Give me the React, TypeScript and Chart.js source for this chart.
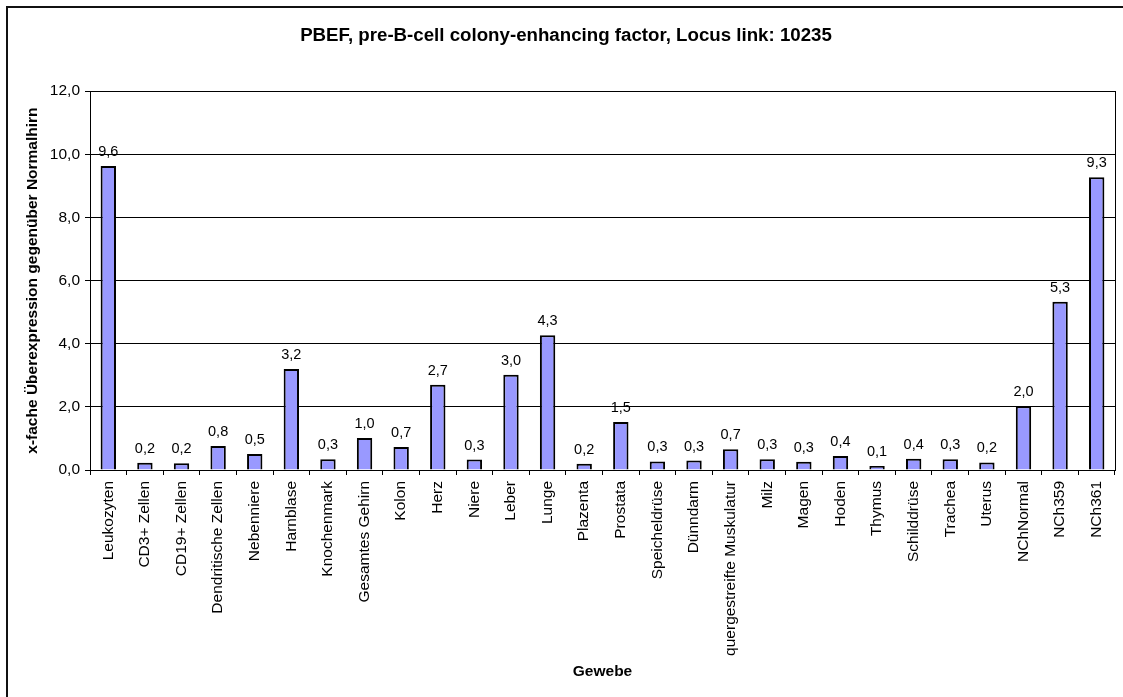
import React, { useEffect, useRef } from "react";
import { Chart, registerables } from "chart.js";

Chart.register(...registerables);

const categories: string[] = [
  "Leukozyten", "CD3+ Zellen", "CD19+ Zellen", "Dendritische Zellen", "Nebenniere",
  "Harnblase", "Knochenmark", "Gesamtes Gehirn", "Kolon", "Herz", "Niere", "Leber",
  "Lunge", "Plazenta", "Prostata", "Speicheldrüse", "Dünndarm", "quergestreifte Muskulatur",
  "Milz", "Magen", "Hoden", "Thymus", "Schilddrüse", "Trachea", "Uterus",
  "NChNormal", "NCh359", "NCh361",
];

const values: number[] = [
  9.63, 0.23, 0.21, 0.76, 0.51,
  3.2, 0.34, 1.01, 0.73, 2.7, 0.33, 3.02,
  4.27, 0.2, 1.52, 0.27, 0.3, 0.66,
  0.34, 0.26, 0.44, 0.13, 0.36, 0.34, 0.24,
  2.02, 5.33, 9.27,
];

const yTicks: number[] = [0, 2, 4, 6, 8, 10, 12];

const titleText = "PBEF, pre-B-cell colony-enhancing factor, Locus link: 10235";
const yTitle = "x-fache Überexpression gegenüber Normalhirn";
const xTitle = "Gewebe";

const fmt = (v: number) => v.toFixed(1).replace(".", ",");

const FONT = "'Liberation Sans', Arial, sans-serif";

const framePlugin = {
  id: "framePlugin",
  afterDraw(chart: any) {
    const ctx = chart.ctx;
    const a = chart.chartArea;
    ctx.save();
    // outer frame (left and top visible)
    ctx.strokeStyle = "#111";
    ctx.lineWidth = 2;
    ctx.beginPath();
    ctx.moveTo(7, chart.height);
    ctx.lineTo(7, 7);
    ctx.lineTo(chart.width, 7);
    ctx.stroke();
    // plot area border
    ctx.strokeStyle = "#000";
    ctx.lineWidth = 1;
    ctx.strokeRect(Math.round(a.left) + 0.5, Math.round(a.top) + 0.5,
      Math.round(a.right - a.left), Math.round(a.bottom - a.top));
    // data labels
    const meta = chart.getDatasetMeta(0);
    ctx.fillStyle = "#000";
    ctx.font = `14.5px ${FONT}`;
    ctx.textAlign = "center";
    ctx.textBaseline = "alphabetic";
    meta.data.forEach((el: any, i: number) => {
      const v = chart.data.datasets[0].data[i] as number;
      ctx.fillText(fmt(v), el.x, el.y - 10);
    });
    ctx.restore();
  },
};

export default function App() {
  const ref = useRef<HTMLCanvasElement>(null);
  useEffect(() => {
    if (!ref.current) return;
    const chart = new Chart(ref.current, {
      type: "bar",
      data: {
        labels: categories,
        datasets: [
          {
            data: values,
            backgroundColor: "#9999FF",
            borderColor: "#000",
            borderWidth: 2,
            barPercentage: 0.42,
            categoryPercentage: 1,
          },
        ],
      },
      options: {
        animation: false,
        responsive: false,
        devicePixelRatio: 1,
        layout: { padding: { left: 17, right: 8, top: 0, bottom: 0 } },
        plugins: {
          legend: { display: false },
          tooltip: { enabled: false },
          title: {
            display: true,
            text: titleText,
            color: "#000",
            font: { family: FONT, size: 18.7, weight: "bold" },
            padding: { top: 24.5, bottom: 44.2 },
          },
        },
        scales: {
          x: {
            grid: {
              display: true,
              drawOnChartArea: false,
              drawTicks: true,
              tickLength: 5,
              color: "#000",
              offset: true,
            },
            border: { display: true, color: "#000" },
            ticks: {
              color: "#000",
              font: { family: FONT, size: 15.5 },
              minRotation: 90,
              maxRotation: 90,
              autoSkip: false,
              padding: 6,
            },
            title: {
              display: true,
              text: xTitle,
              color: "#000",
              font: { family: FONT, size: 15.5, weight: "bold" },
              padding: { top: 0, bottom: 15.5 },
            },
            afterFit(scale: any) {
              scale.height = 227;
            },
          },
          y: {
            min: 0,
            max: 12,
            afterBuildTicks(scale: any) {
              scale.ticks = yTicks.map((v) => ({ value: v }));
            },
            grid: {
              color: "#000",
              tickLength: 5,
              drawTicks: true,
            },
            border: { display: true, color: "#000" },
            ticks: {
              color: "#000",
              font: { family: FONT, size: 15.5 },
              padding: 5,
              callback: (v: any) => fmt(Number(v)),
            },
            title: {
              display: true,
              text: yTitle,
              color: "#000",
              font: { family: FONT, size: 15.5, weight: "bold" },
              padding: { top: 6.5, bottom: 0 },
            },
            afterFit(scale: any) {
              scale.width = 73;
            },
          },
        },
      },
      plugins: [framePlugin],
    });
    return () => chart.destroy();
  }, []);
  return (
    <div style={{ position: "absolute", left: 0, top: 0, width: 1123, height: 697, background: "#fff" }}>
      <canvas ref={ref} width={1123} height={697} style={{ display: "block" }} />
    </div>
  );
}
